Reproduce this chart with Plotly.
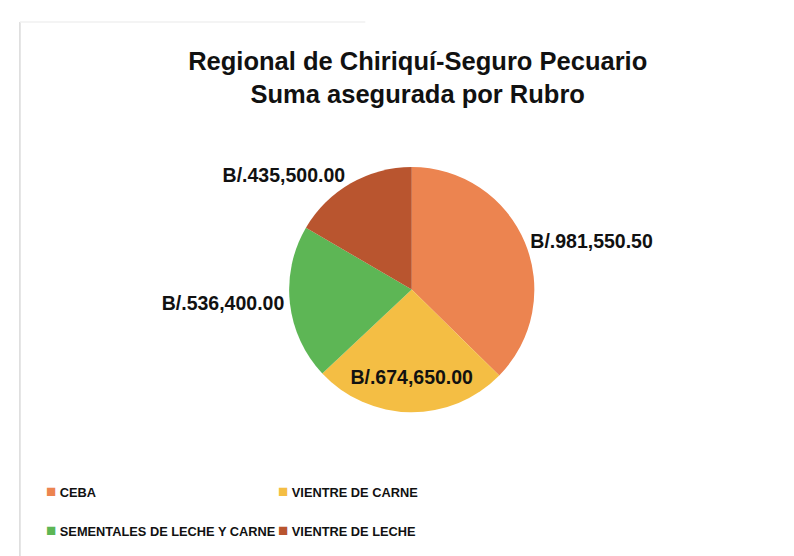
import plotly.graph_objects as go

categories = ["CEBA", "VIENTRE DE CARNE", "SEMENTALES DE LECHE Y CARNE", "VIENTRE DE LECHE"]
values = [981550.50, 674650.00, 536400.00, 435500.00]
value_labels = ["B/.981,550.50", "B/.674,650.00", "B/.536,400.00", "B/.435,500.00"]
colors = ["#EC8450", "#F4BE44", "#5DB655", "#B9552F"]
title_lines = ["Regional de Chiriquí-Seguro Pecuario", "Suma asegurada por Rubro"]

FONT = "Liberation Sans, Arial, sans-serif"
INK = "#111111"

fig = go.Figure(go.Pie(
    labels=categories,
    values=values,
    text=value_labels,
    textinfo="text",
    textposition=["outside", "inside", "outside", "outside"],
    insidetextorientation="horizontal",
    outsidetextfont=dict(family=FONT, size=19.5, color=INK, weight="bold"),
    insidetextfont=dict(family=FONT, size=19.5, color=INK, weight="bold"),
    marker=dict(colors=colors, line=dict(width=0)),
    sort=False,
    direction="clockwise",
    rotation=0,
    domain=dict(x=[0.354, 0.663], y=[0.273, 0.714]),
    showlegend=False,
))

# legend drawn as text entries in two columns (row-major, as in the reference)
legend_cols = [0.045, 0.337]
legend_rows = [0.131, 0.060]
annotations = []
for i, (cat, col) in enumerate(zip(categories, colors)):
    annotations.append(dict(
        text=f'<span style="color:{col};font-size:17px">■</span> {cat}',
        x=legend_cols[i % 2], y=legend_rows[i // 2],
        xref="paper", yref="paper", xanchor="left", yanchor="middle",
        showarrow=False,
        font=dict(family=FONT, size=12.8, color=INK, weight="bold"),
    ))

fig.update_layout(
    width=794, height=556,
    margin=dict(l=0, r=0, t=0, b=0),
    paper_bgcolor="white",
    plot_bgcolor="white",
    title=dict(
        text="<br>".join(title_lines),
        x=0.516, xanchor="center",
        y=0.889, yanchor="top",
        font=dict(family=FONT, size=25.5, color=INK, weight="bold"),
    ),
    annotations=annotations,
    shapes=[
        dict(type="line", xref="paper", yref="paper", x0=0.015, x1=0.015, y0=0.0, y1=0.975,
             line=dict(color="#d9d9d9", width=1.5)),
        dict(type="line", xref="paper", yref="paper", x0=0.015, x1=0.45, y0=0.975, y1=0.975,
             line=dict(color="#f0f0f0", width=1.5)),
    ],
)

fig.write_html("out.html")
